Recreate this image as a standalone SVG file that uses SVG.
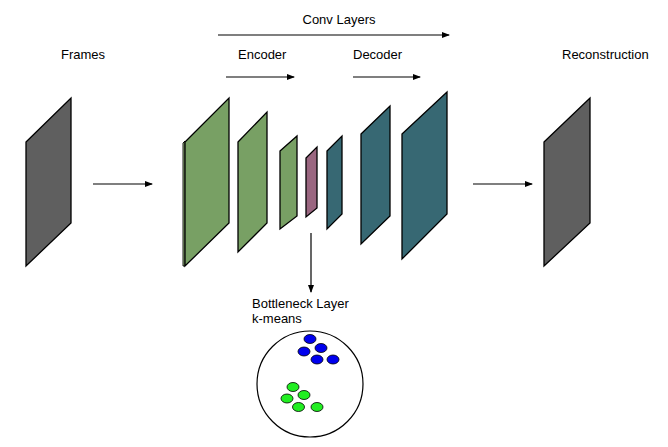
<svg xmlns="http://www.w3.org/2000/svg" width="668" height="447" viewBox="0 0 668 447">
<style>
text{font-family:"Liberation Sans",Arial,sans-serif;font-size:13px;fill:#000}
.f{stroke:#000;stroke-width:1.3;stroke-linejoin:miter}
.s{stroke:#000;stroke-width:0.9}
.gray{fill:#5f5f5f}
.green{fill:#78a064}
.lgreen{fill:#a9cc8e}
.pink{fill:#9a6680}
.teal{fill:#376873}
.ln{stroke:#000;stroke-width:1.2;fill:none}
.blue{fill:#0000ee;stroke:#000;stroke-width:0.8}
.grn{fill:#22ee22;stroke:#000;stroke-width:0.8}
</style>
<defs>
<marker id="ah" markerWidth="8" markerHeight="6" refX="7" refY="3" orient="auto" markerUnits="userSpaceOnUse">
<path d="M0,0 L8,3 L0,6 z" fill="#000"/>
</marker>
</defs>
<g id="labels">
<text x="61" y="59">Frames</text>
<text x="562" y="59">Reconstruction</text>
<text x="339" y="24" text-anchor="middle">Conv Layers</text>
<text x="238" y="59">Encoder</text>
<text x="353" y="59">Decoder</text>
</g>
<g id="frames">
<polygon class="f gray" points="26,142 71,98 71,223 26,266"/>
</g>
<g id="enc1">
<polygon class="s lgreen" points="183,143 185,141 185,266 183,266"/>
<polygon class="f green" points="185,142 229,98 229,223 185,266"/>
</g>
<g id="enc2">
<polygon class="f green" points="238,142 267,112 267,223 238,252"/>
</g>
<g id="enc3">
<polygon class="f green" points="280,151 297,136 297,216 280,229"/>
</g>
<g id="bottleneck">
<polygon class="f pink" points="306,158 317,147 317,208 306,217"/>
</g>
<g id="dec1">
<polygon class="f teal" points="327,151 342,136 342,214 327,229"/>
</g>
<g id="dec2">
<polygon class="f teal" points="361,134 390,106 390,216 361,244"/>
</g>
<g id="dec3">
<polygon class="f teal" points="402,134 447,92 447,214 402,259"/>
</g>
<g id="reconstruction">
<polygon class="f gray" points="544,142 590,98 590,223 544,266"/>
</g>
<g id="kmeans">
<text x="252" y="307.5">Bottleneck Layer</text>
<text x="252" y="322.5">k-means</text>
<circle cx="310" cy="384" r="53" fill="#fff" stroke="#000" stroke-width="1.2"/>
<ellipse class="blue" cx="310" cy="339" rx="6" ry="4.5"/>
<ellipse class="blue" cx="321" cy="348" rx="6" ry="4.5"/>
<ellipse class="blue" cx="304" cy="351.5" rx="6" ry="4.5"/>
<ellipse class="blue" cx="317" cy="359.5" rx="6" ry="4.5"/>
<ellipse class="blue" cx="333" cy="359.5" rx="6" ry="4.5"/>
<ellipse class="grn" cx="293" cy="387" rx="6" ry="4.5"/>
<ellipse class="grn" cx="304" cy="395" rx="6" ry="4.5"/>
<ellipse class="grn" cx="287" cy="398.5" rx="6" ry="4.5"/>
<ellipse class="grn" cx="298.5" cy="407" rx="6" ry="4.5"/>
<ellipse class="grn" cx="317" cy="407" rx="6" ry="4.5"/>
</g>
<g id="connectors">
<line class="ln" x1="93" y1="184" x2="152" y2="184" marker-end="url(#ah)"/>
<line class="ln" x1="473" y1="184" x2="532" y2="184" marker-end="url(#ah)"/>
<line class="ln" x1="218" y1="35" x2="449" y2="35" marker-end="url(#ah)"/>
<line class="ln" x1="226" y1="77" x2="294" y2="77" marker-end="url(#ah)"/>
<line class="ln" x1="353" y1="77" x2="420" y2="77" marker-end="url(#ah)"/>
<line class="ln" x1="311" y1="233" x2="311" y2="292" marker-end="url(#ah)"/>
</g>
</svg>
